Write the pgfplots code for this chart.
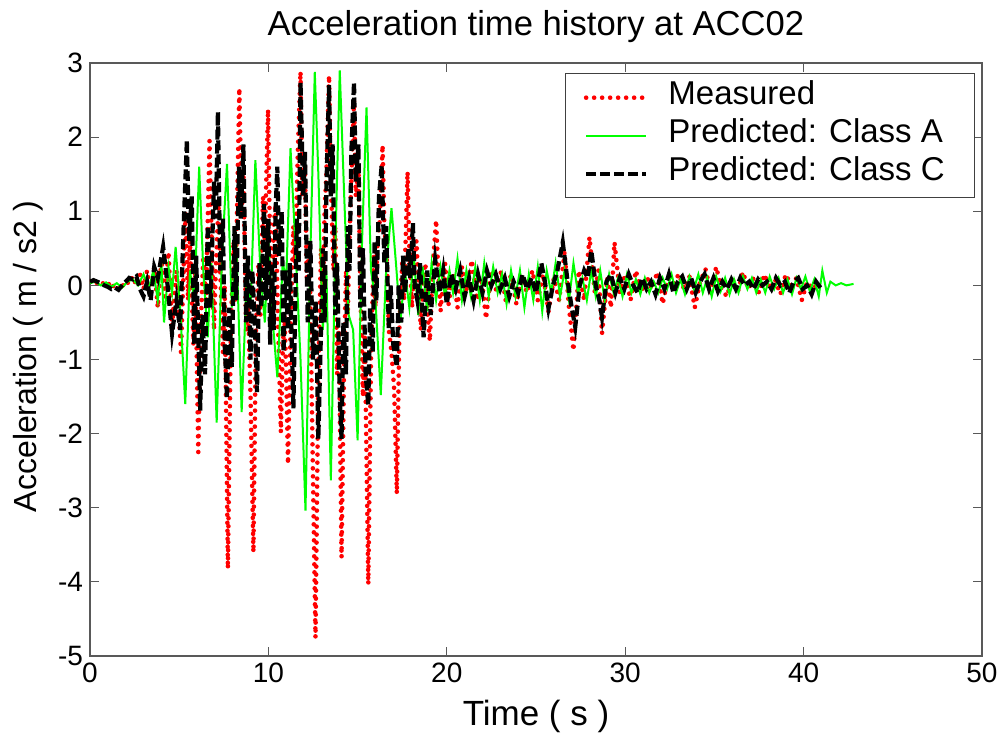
\documentclass[border=0pt]{standalone}
\usepackage{fontspec}
\setmainfont{Liberation Sans}
\usepackage{pgfplots}
\pgfplotsset{compat=1.18}
\definecolor{mred}{RGB}{255,0,0}
\definecolor{mgreen}{RGB}{0,255,0}
\begin{document}
\begin{tikzpicture}
\begin{axis}[
  scale only axis, width=446pt, height=296.5pt,
  xmin=0, xmax=50, ymin=-5, ymax=3,
  xtick={0,10,20,30,40,50}, ytick={-5,-4,-3,-2,-1,0,1,2,3},
  tick align=inside, major tick length=4.5pt,
  axis line style={black!65, line width=0.7pt},
  tick style={black!65, line width=0.6pt},
  font=\fontsize{14}{16}\selectfont,
  ticklabel style={font=\fontsize{14}{16}\selectfont},
  /pgf/number format/assume math mode=true,
  title={Acceleration time history at ACC02},
  title style={at={(axis description cs:0.5,1.04553)}, anchor=base, yshift=-6pt, font=\fontsize{17.3}{19}\selectfont},
  xlabel={Time ( s )}, ylabel={Acceleration ( m / s2 )},
  xlabel style={at={(axis description cs:0.5,-0.11804)}, anchor=base, font=\fontsize{17.5}{19}\selectfont},
  ylabel style={at={(axis description cs:-0.0605,0.505)}, anchor=base, font=\fontsize{16}{18}\selectfont},
  legend style={at={(rel axis cs:0.9922,0.983)}, anchor=north east,
    draw=black!75, line width=0.6pt, font=\fontsize{16.5}{18}\selectfont,
    inner xsep=9pt, inner ysep=4.5pt, row sep=4pt,
    nodes={inner sep=0pt, text height=11pt, text depth=4pt},
    /tikz/every odd column/.append style={column sep=10pt}},
  legend cell align=left,
  legend image code/.code={\draw[#1] (0pt,0pt) -- (30pt,0pt);},
]
\addplot[mred, line width=2.3pt, line cap=round, dash pattern=on 0pt off 4pt] coordinates {
(0.0,0.05) (0.2,0.07) (0.4,0.03) (0.6,0.06) (0.8,0.01) (1.0,0.04) (1.2,-0.04) (1.4,0.02) (1.6,-0.06) (1.8,-0.02)
(2.0,0.06) (2.2,0.02) (2.4,0.12) (2.6,0.0) (2.8,0.15) (3.0,-0.05) (3.2,0.2) (3.4,-0.15) (3.6,0.25) (3.8,-0.3)
(4.0,0.35) (4.2,-0.15) (4.4,0.45) (4.6,-0.55) (4.85,0.2) (5.1,-0.9) (5.35,1.0) (5.5,-0.2) (5.6,0.6) (5.8,-0.8)
(5.9,0.3) (6.07,-2.25) (6.2,-0.6) (6.35,0.4) (6.5,-0.2) (6.7,1.95) (6.8,0.8) (6.95,-0.6) (7.05,0.2) (7.2,1.1)
(7.3,0.2) (7.45,-0.9) (7.55,0.0) (7.73,-3.82) (7.9,-0.5) (8.05,0.6) (8.15,-0.2) (8.37,2.66) (8.5,1.0) (8.6,1.5)
(8.75,-0.6) (8.85,-0.2) (9.0,-1.5) (9.16,-3.6) (9.3,-0.6) (9.45,0.3) (9.55,-0.4) (9.7,1.2) (9.8,0.6) (9.98,2.37)
(10.1,0.4) (10.2,-0.2) (10.3,0.8) (10.4,1.1) (10.55,-0.6) (10.7,-1.98) (10.8,-0.9) (10.9,-0.4) (11.0,-1.2) (11.1,-2.41)
(11.25,-0.5) (11.4,0.8) (11.5,0.3) (11.65,1.8) (11.8,2.88) (11.9,1.2) (12.05,1.6) (12.15,0.1) (12.3,0.6) (12.45,-1.8)
(12.64,-4.75) (12.8,-1.2) (12.95,0.5) (13.05,-0.2) (13.15,1.0) (13.25,1.5) (13.4,2.83) (13.5,1.4) (13.65,0.2) (13.75,0.8)
(13.85,-1.2) (13.95,-0.6) (14.1,-3.67) (14.25,-0.9) (14.35,0.2) (14.45,-0.4) (14.55,0.7) (14.8,2.5) (14.9,1.2) (15.05,1.6)
(15.15,0.0) (15.3,-1.5) (15.4,-0.6) (15.6,-4.03) (15.75,-1.0) (15.9,0.4) (16.0,-0.3) (16.1,0.5) (16.25,0.9) (16.4,1.89)
(16.5,0.8) (16.65,0.3) (16.75,-0.6) (16.9,-0.9) (17.05,-1.4) (17.2,-2.81) (17.35,-0.5) (17.5,0.3) (17.6,-0.2) (17.8,1.53)
(17.9,0.5) (18.05,-0.3) (18.15,0.2) (18.3,0.6) (18.45,-0.2) (18.55,-0.6) (18.65,0.0) (18.8,0.3) (18.9,-0.3) (19.05,-0.75)
(19.2,0.2) (19.4,0.88) (19.5,0.3) (19.65,-0.35)
(19.9,0.3) (20.1,-0.25) (20.35,0.15) (20.6,-0.3) (20.85,0.25) (21.1,-0.1) (21.4,0.34) (21.7,-0.2) (21.95,0.1)
(22.2,-0.45) (22.5,0.2) (22.8,-0.1) (23.05,0.2) (23.3,-0.2) (23.6,0.15) (23.9,-0.25) (24.2,0.1) (24.5,-0.1) (24.8,0.2)
(25.1,-0.2) (25.4,0.15) (25.7,-0.35) (26.0,0.1) (26.3,-0.2) (26.6,0.45) (26.85,-0.3) (27.1,-0.88) (27.4,0.2) (27.7,-0.2)
(28.0,0.65) (28.3,-0.1) (28.5,0.2) (28.7,-0.65) (29.0,0.1) (29.2,-0.3) (29.4,0.58) (29.7,-0.1) (30.0,0.15) (30.3,-0.2)
(30.6,0.2) (30.9,-0.1) (31.2,0.12) (31.5,-0.05) (31.8,0.18) (32.1,-0.25) (32.4,0.1) (32.7,0.02) (33.0,0.15) (33.3,-0.05)
(33.6,0.12) (33.9,-0.3) (34.2,0.05) (34.5,0.22) (34.8,-0.1) (35.1,0.25) (35.4,-0.05) (35.7,-0.15) (36.0,0.1) (36.3,-0.1)
(36.6,0.18) (36.9,-0.05) (37.2,0.1) (37.5,-0.1) (37.8,0.15) (38.1,-0.05) (38.4,0.08) (38.7,-0.12) (39.0,0.15) (39.3,0.0)
(39.6,0.1) (39.9,-0.2) (40.2,0.05) (40.5,-0.05) (40.7,0.0)
};
\addlegendentry{\makebox[144pt][l]{Measured}}
\addplot[mgreen, line width=1pt] coordinates {
(0.0,0.03) (0.3,0.05) (0.6,0.0) (0.9,0.04) (1.2,-0.02) (1.5,0.03) (1.8,-0.03) (2.1,0.05) (2.4,0.08) (2.7,0.0)
(3.0,0.15) (3.3,-0.05) (3.55,0.2) (3.8,-0.2) (4.0,0.3) (4.15,-0.5) (4.4,0.25) (4.6,-0.1) (4.8,0.52) (5.05,-0.3)
(5.34,-1.6) (5.6,0.2) (5.85,-0.2) (6.12,1.6) (6.35,0.2) (6.6,-0.7) (6.8,0.3) (7.1,-1.85) (7.4,0.4) (7.68,1.64)
(7.95,-0.3) (8.2,0.6) (8.5,-1.71) (8.8,0.2) (9.0,-0.3) (9.27,1.69) (9.55,0.2) (9.8,-0.5) (10.0,0.6) (10.25,-0.5)
(10.5,-1.24) (10.8,0.3) (11.0,0.1) (11.24,1.85) (11.5,0.6) (11.8,-1.0) (12.08,-3.04) (12.35,0.4) (12.6,2.88) (12.8,1.5)
(13.05,-0.6) (13.25,0.2) (13.5,-2.63) (13.75,0.5) (14.0,2.9) (14.25,1.2) (14.5,-0.4) (14.75,-0.6) (15.0,-2.09) (15.25,0.6)
(15.5,2.4) (15.75,0.2) (16.0,-0.2) (16.3,-1.48) (16.6,0.2) (16.9,1.04) (17.15,0.3) (17.4,-0.5) (17.65,0.2) (17.9,-0.3)
(18.15,0.4) (18.4,-0.4) (18.65,0.25) (18.9,-0.35) (19.15,0.3) (19.4,-0.2) (19.65,0.25) (19.9,-0.15) (20.15,0.2) (20.35,-0.1)
(20.6,0.36) (20.85,-0.2) (21.1,0.2) (21.35,-0.15) (21.6,0.25) (21.85,-0.2) (22.1,0.3) (22.35,-0.15) (22.6,0.25) (22.85,-0.1)
(23.1,0.15) (23.35,-0.25) (23.6,0.2) (23.85,-0.15) (24.1,0.2) (24.35,-0.3) (24.6,0.15) (24.85,-0.2) (25.1,0.25) (25.35,-0.35)
(25.6,0.2) (25.85,-0.1) (26.1,0.3) (26.35,-0.15) (26.6,0.2) (26.85,-0.2) (27.1,0.3) (27.35,-0.1) (27.6,0.1) (27.85,-0.2)
(28.1,0.2) (28.35,-0.15) (28.6,0.2) (28.85,-0.2) (29.1,0.15) (29.35,-0.1) (29.6,0.1) (29.85,-0.15) (30.1,0.15) (30.35,-0.1)
(30.6,0.08) (30.85,-0.12) (31.1,0.1) (31.35,-0.1) (31.6,0.05) (31.85,-0.1) (32.1,0.1) (32.35,-0.05) (32.6,0.15) (32.85,-0.1)
(33.1,0.08) (33.35,-0.12) (33.6,0.12) (33.85,-0.05) (34.1,0.15) (34.35,-0.1) (34.6,0.1) (34.85,-0.15) (35.1,0.12) (35.35,-0.08)
(35.6,0.1) (35.85,-0.12) (36.1,0.08) (36.35,-0.1) (36.6,0.12) (36.85,-0.05) (37.1,0.1) (37.35,-0.1) (37.6,0.08) (37.85,-0.1)
(38.1,0.12) (38.35,-0.05) (38.6,0.1) (38.85,-0.1) (39.1,0.08) (39.35,-0.12) (39.6,0.1) (39.85,-0.05) (40.1,0.12) (40.35,-0.08)
(40.6,0.08) (40.85,-0.15) (41.05,0.2) (41.3,-0.1) (41.5,0.05) (41.8,0.0) (42.1,0.03) (42.4,0.0) (42.8,0.02)
};
\addlegendentry{\makebox[144pt][l]{Predicted: Class A}}
\addplot[black, line width=2.1pt, dash pattern=on 5pt off 2pt] coordinates {
(0.0,0.05) (0.2,0.07) (0.4,0.05) (0.6,0.03) (0.8,0.0) (1.0,-0.02) (1.2,-0.05) (1.4,-0.03) (1.6,-0.06) (1.8,0.0)
(2.0,0.05) (2.2,0.1) (2.4,0.08) (2.6,0.12) (2.8,-0.05) (3.0,-0.15) (3.2,0.05) (3.4,-0.2) (3.6,0.25) (3.8,0.1)
(4.1,0.52) (4.35,0.0) (4.6,-0.65) (4.85,-0.2) (5.05,-0.6) (5.25,0.8) (5.43,1.96) (5.55,0.6) (5.7,1.2) (5.85,-0.8)
(5.95,0.4) (6.18,-1.69) (6.3,-0.4) (6.45,-1.2) (6.6,0.8) (6.75,-0.3) (6.95,1.4) (7.05,0.9) (7.17,2.34) (7.3,0.2)
(7.45,0.9) (7.55,-0.8) (7.68,-1.53) (7.8,-0.3) (7.95,-1.1) (8.1,0.8) (8.2,-0.2) (8.35,1.6) (8.45,0.9) (8.6,1.9)
(8.75,-0.5) (8.85,0.4) (9.0,-1.0) (9.1,0.2) (9.25,-0.6) (9.36,-1.44) (9.5,0.3) (9.6,-0.3) (9.75,1.1) (9.85,-0.2)
(10.0,0.9) (10.1,-0.8) (10.2,0.3) (10.3,-0.6) (10.4,1.0) (10.5,1.6) (10.6,0.4) (10.75,1.0) (10.85,-0.9) (10.95,0.2)
(11.1,-0.6) (11.2,0.3) (11.4,-1.66) (11.5,-0.3) (11.6,0.9) (11.7,0.2) (11.8,2.74) (11.95,1.2) (12.05,1.8) (12.2,-0.5)
(12.35,0.6) (12.5,-1.0) (12.65,-0.2) (12.8,-2.07) (12.95,-0.6) (13.05,0.5) (13.15,-0.5) (13.25,1.3) (13.4,2.7) (13.5,1.2)
(13.6,1.9) (13.75,-0.4) (13.85,0.3) (14.0,-1.5) (14.1,-2.07) (14.2,-0.5) (14.35,-1.2) (14.45,0.8) (14.55,0.2) (14.65,1.8)
(14.8,2.74) (14.9,1.4) (15.05,1.9) (15.15,-0.3) (15.3,0.5) (15.45,-1.2) (15.6,-1.62) (15.7,-0.3) (15.85,-0.9) (15.95,0.6)
(16.05,-0.2) (16.2,1.2) (16.35,1.62) (16.5,0.3) (16.6,0.8) (16.75,-0.6) (16.85,0.0) (17.0,-0.8) (17.2,-1.1) (17.3,0.0)
(17.45,-0.5) (17.55,0.4) (17.65,-0.1) (17.85,0.5) (17.95,0.1) (18.1,0.84) (18.2,0.0) (18.35,-0.2)
(18.5,0.3) (18.7,-0.7) (18.9,0.2) (19.1,-0.4) (19.35,0.35) (19.6,-0.1) (19.8,0.2) (20.0,-0.25) (20.25,0.15) (20.5,-0.05)
(20.75,0.2) (21.0,-0.15) (21.25,0.1) (21.5,-0.2) (21.75,0.15) (22.0,-0.1) (22.25,0.2) (22.5,0.0) (22.75,0.15) (23.0,-0.05)
(23.25,0.1) (23.5,-0.15) (23.75,0.05) (24.0,-0.1) (24.25,0.15) (24.5,-0.05) (24.75,0.1) (25.0,-0.1) (25.3,0.3) (25.5,0.05)
(25.7,-0.31) (25.95,0.0) (26.2,0.2) (26.5,0.58) (26.75,0.1) (27.0,-0.3) (27.2,-0.56) (27.45,0.0) (27.7,0.2) (27.9,0.1)
(28.1,0.47) (28.35,0.0) (28.55,-0.2) (28.7,-0.43) (28.95,0.05) (29.2,0.15) (29.45,-0.1) (29.7,0.1) (29.95,-0.05) (30.2,0.15)
(30.45,0.0) (30.7,-0.1) (30.95,0.1) (31.2,-0.05) (31.45,0.05) (31.7,-0.12) (31.95,0.1) (32.2,-0.05) (32.45,0.15) (32.7,-0.1)
(32.95,0.05) (33.2,0.12) (33.45,-0.05) (33.7,0.1) (33.95,-0.1) (34.2,0.05) (34.45,0.15) (34.7,-0.05) (34.95,0.1) (35.2,-0.08)
(35.45,0.05) (35.7,-0.05) (35.95,0.08) (36.2,-0.05) (36.45,0.1) (36.7,0.0) (36.95,0.05) (37.2,-0.05) (37.45,0.08) (37.7,0.0)
(37.95,0.05) (38.2,-0.05) (38.45,0.1) (38.7,0.0) (38.95,0.05) (39.2,-0.1) (39.45,0.05) (39.7,0.1) (39.95,-0.05) (40.2,0.0)
(40.45,-0.12) (40.7,0.05) (41.0,-0.05)
};
\addlegendentry{\makebox[144pt][l]{Predicted: Class C}}
\end{axis}
\pgfresetboundingbox
\useasboundingbox ([xshift=-45pt,yshift=-41pt]current axis.south west) rectangle ([xshift=13pt,yshift=31.5pt]current axis.north east);
\end{tikzpicture}
\end{document}
